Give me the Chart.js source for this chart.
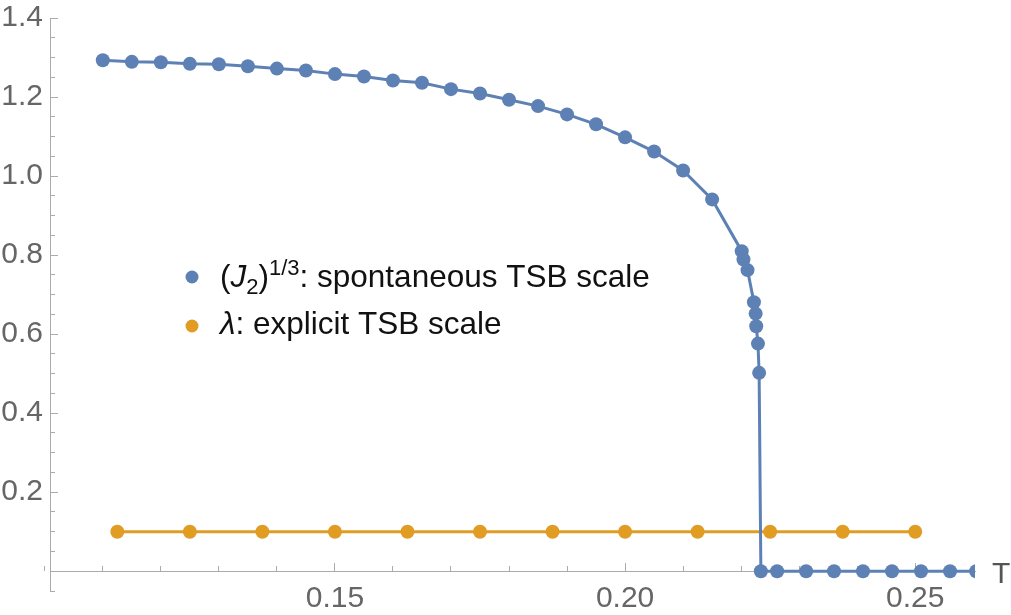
<!DOCTYPE html>
<html>
<head>
<meta charset="utf-8">
<script src="https://cdn.jsdelivr.net/npm/chart.js@4"></script>
<style>
  html, body { margin: 0; padding: 0; background: #fff; }
  #wrap { width: 1011px; height: 615px; }
</style>
</head>
<body>
<div id="wrap"><canvas id="c" width="1011" height="615"></canvas></div>
<script>
// spontaneous scale (J2)^(1/3) vs T
const blueT = [0.110, 0.115, 0.120, 0.125, 0.130, 0.135, 0.140, 0.145, 0.150, 0.155,
  0.160, 0.165, 0.170, 0.175, 0.180, 0.185, 0.190, 0.195, 0.200, 0.205, 0.210, 0.215,
  0.2201, 0.2204, 0.2211, 0.2222, 0.2225, 0.2226, 0.2229, 0.2231, 0.2234,
  0.2262, 0.2312, 0.2360, 0.2410, 0.2460, 0.2510, 0.2560, 0.2605];
const blueJ = [1.293, 1.289, 1.288, 1.284, 1.283, 1.278, 1.272, 1.267, 1.258, 1.252,
  1.242, 1.236, 1.220, 1.209, 1.193, 1.177, 1.156, 1.131, 1.098, 1.062, 1.014, 0.941,
  0.810, 0.789, 0.762, 0.681, 0.652, 0.620, 0.576, 0.502, 0,
  0, 0, 0, 0, 0, 0, 0, 0];

// explicit scale lambda vs T
const orangeT = [0.1125, 0.125, 0.1375, 0.150, 0.1625, 0.175, 0.1875, 0.200, 0.2125, 0.225, 0.2375, 0.250];
const orangeL = [0.1, 0.1, 0.1, 0.1, 0.1, 0.1, 0.1, 0.1, 0.1, 0.1, 0.1, 0.1];

const xMajorTicks = [0.15, 0.20, 0.25];
const xTickLabels = ['0.15', '0.20', '0.25'];
const yMajorTicks = [0.2, 0.4, 0.6, 0.8, 1.0, 1.2, 1.4];
const yTickLabels = ['0.2', '0.4', '0.6', '0.8', '1.0', '1.2', '1.4'];

const seriesNames = [': spontaneous TSB scale', ': explicit TSB scale'];

const BLUE = '#5E81B5';
const ORANGE = '#E19C24';
const AXIS = '#ababab';
const FONT = '"Liberation Sans", Arial, sans-serif';

const X_MIN = 0.1009, X_MAX = 0.2603, Y_MIN = -0.05, Y_MAX = 1.4;

const xMinorTicks = [];
for (let i = 10; i <= 26; i++) xMinorTicks.push(i / 100);
const yMinorTicks = [];
for (let i = -1; i <= 28; i++) yMinorTicks.push(i / 20);

const toXY = (xs, ys) => xs.map((x, i) => ({ x: x, y: ys[i] }));

// legend with sub/superscripts + axis label "T"
const overlay = {
  id: 'overlay',
  afterDraw(chart) {
    const ctx = chart.ctx;
    ctx.save();
    ctx.textBaseline = 'alphabetic';
    ctx.textAlign = 'left';

    ctx.font = '30px ' + FONT;
    ctx.fillStyle = '#555';
    ctx.fillText('T', 992, 583);

    const drawRich = (parts, x, y) => {
      parts.forEach((p) => {
        const size = p.small ? 22 : 31.5;
        ctx.font = (p.italic ? 'italic ' : '') + size + 'px ' + FONT;
        ctx.fillStyle = '#111';
        ctx.fillText(p.t, x, y + (p.dy || 0));
        x += ctx.measureText(p.t).width;
      });
    };

    ctx.fillStyle = BLUE;
    ctx.beginPath(); ctx.arc(192, 277, 6.5, 0, Math.PI * 2); ctx.fill();
    drawRich([
      { t: '(' }, { t: 'J', italic: true }, { t: '2', small: true, dy: 7 },
      { t: ')' }, { t: '1/3', small: true, dy: -12 }, { t: seriesNames[0] }
    ], 220, 287);

    ctx.fillStyle = ORANGE;
    ctx.beginPath(); ctx.arc(192, 326, 6.5, 0, Math.PI * 2); ctx.fill();
    drawRich([{ t: '\u03BB', italic: true }, { t: seriesNames[1] }], 220, 334);
    ctx.restore();
  }
};

new Chart(document.getElementById('c'), {
  type: 'line',
  data: {
    datasets: [
      {
        data: toXY(blueT, blueJ),
        borderColor: BLUE,
        backgroundColor: BLUE,
        pointBackgroundColor: BLUE,
        borderWidth: 3,
        pointRadius: 7,
        pointBorderWidth: 0,
        tension: 0
      },
      {
        data: toXY(orangeT, orangeL),
        borderColor: ORANGE,
        backgroundColor: ORANGE,
        pointBackgroundColor: ORANGE,
        borderWidth: 3,
        pointRadius: 7,
        pointBorderWidth: 0,
        tension: 0
      }
    ]
  },
  options: {
    responsive: false,
    animation: false,
    events: [],
    layout: { padding: { left: 0, right: 36, top: 0, bottom: 24 } },
    plugins: { legend: { display: false }, tooltip: { enabled: false } },
    scales: {
      x: {
        type: 'linear',
        position: { y: 0 },
        min: X_MIN, max: X_MAX,
        afterBuildTicks: (s) => { s.ticks = xMajorTicks.map((v) => ({ value: v })); },
        afterFit: (s) => { s.height = 24; s.paddingLeft = 0; s.paddingRight = 0; },
        grid: { drawOnChartArea: false, tickLength: -9, color: AXIS, lineWidth: 1 },
        border: { color: AXIS, width: 1 },
        ticks: {
          autoSkip: false, maxRotation: 0, padding: 18,
          color: '#666', font: { family: FONT, size: 30 },
          callback: (v, i) => xTickLabels[i]
        }
      },
      xMinor: {
        type: 'linear',
        position: { y: 0 },
        min: X_MIN, max: X_MAX,
        afterBuildTicks: (s) => { s.ticks = xMinorTicks.map((v) => ({ value: v })); },
        afterFit: (s) => { s.height = 0; s.paddingLeft = 0; s.paddingRight = 0; },
        grid: { drawOnChartArea: false, tickLength: -5, color: AXIS, lineWidth: 1 },
        border: { display: false },
        ticks: { display: false, autoSkip: false }
      },
      y: {
        type: 'linear',
        position: 'left',
        weight: 1,
        min: Y_MIN, max: Y_MAX,
        afterBuildTicks: (s) => { s.ticks = yMajorTicks.map((v) => ({ value: v })); },
        afterFit: (s) => { s.width = 50; s.paddingTop = 18; s.paddingBottom = 0; },
        grid: { drawOnChartArea: false, tickLength: -8, color: AXIS, lineWidth: 1 },
        border: { color: AXIS, width: 1 },
        ticks: {
          autoSkip: false, padding: 15,
          color: '#666', font: { family: FONT, size: 30 },
          callback: (v, i) => yTickLabels[i]
        }
      },
      yMinor: {
        type: 'linear',
        position: 'left',
        weight: 0,
        min: Y_MIN, max: Y_MAX,
        afterBuildTicks: (s) => { s.ticks = yMinorTicks.map((v) => ({ value: v })); },
        afterFit: (s) => { s.width = 0; s.paddingTop = 0; s.paddingBottom = 0; },
        grid: { drawOnChartArea: false, tickLength: -5, color: AXIS, lineWidth: 1 },
        border: { display: false },
        ticks: { display: false, autoSkip: false }
      }
    }
  },
  plugins: [overlay]
});
</script>
</body>
</html>
